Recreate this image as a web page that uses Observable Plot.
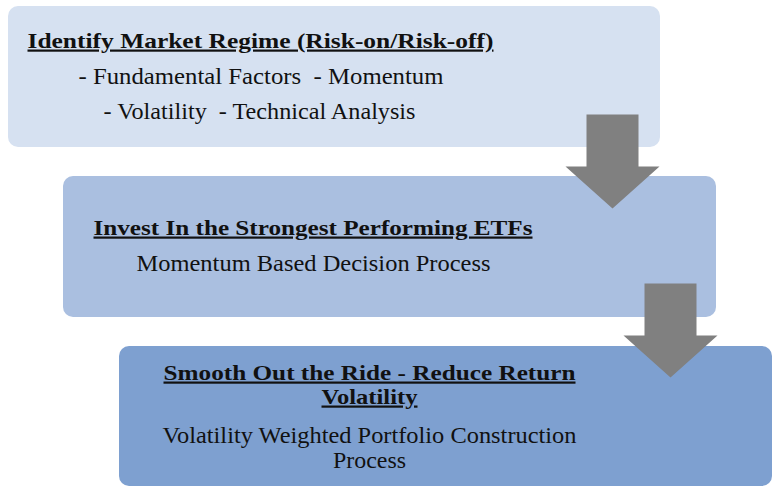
<!DOCTYPE html>
<html><head><meta charset="utf-8">
<script src="https://cdn.jsdelivr.net/npm/d3@7"></script>
<script src="https://cdn.jsdelivr.net/npm/@observablehq/plot@0.6"></script>
<style>body{margin:0;background:#fff}</style>
</head><body><div id="chart"></div>
<script>
// Content
const stepTitles = [
  ["Identify Market Regime (Risk-on/Risk-off)"],
  ["Invest In the Strongest Performing ETFs"],
  ["Smooth Out the Ride - Reduce Return", "Volatility"]
];
const stepDetails = [
  ["- Fundamental Factors\u00a0 - Momentum", "- Volatility\u00a0 - Technical Analysis"],
  ["Momentum Based Decision Process"],
  ["Volatility Weighted Portfolio Construction", "Process"]
];

// Layout (boxes)
const boxLeft = [8, 63, 119];
const boxRight = [660, 716, 772];
const boxTop = [6, 176, 346];
const boxBottom = [147, 317, 486];
const boxFill = ["#d6e1f1", "#aabfe0", "#7ea0d0"];

// Layout (arrows)
const arrowStemLeft = [586, 644];
const arrowStemRight = [638, 696];
const arrowTop = [114, 283];
const arrowWingLeft = [565, 623];
const arrowWingRight = [659, 717];
const arrowShoulder = [166, 335];
const arrowTip = [208, 377];

// Layout (text lines): x, baseline y, anchor, target width
const titleX = [[27], [93], [369, 369]];
const titleY = [[47], [234], [379, 403]];
const titleAnchor = ["start", "start", "middle"];
const titleW = [[466], [439], [412, 96]];
const detailX = [[78, 103], [136], [369, 369]];
const detailY = [[83, 118], [270], [442, 467]];
const detailAnchor = ["start", "start", "middle"];
const detailW = [[365, 312], [354], [414, 73]];

const boxes = d3.range(3).map(i => ({x1: boxLeft[i], x2: boxRight[i], y1: boxTop[i], y2: boxBottom[i], fill: boxFill[i]}));

const arrowPts = [];
d3.range(2).forEach(i => {
  const cx = (arrowWingLeft[i] + arrowWingRight[i]) / 2;
  [[arrowStemLeft[i], arrowTop[i]], [arrowStemRight[i], arrowTop[i]], [arrowStemRight[i], arrowShoulder[i]],
   [arrowWingRight[i], arrowShoulder[i]], [cx, arrowTip[i]], [arrowWingLeft[i], arrowShoulder[i]],
   [arrowStemLeft[i], arrowShoulder[i]]].forEach(([x, y]) => arrowPts.push({arrow: i, x, y}));
});

const titles = [], details = [];
stepTitles.forEach((ls, i) => ls.forEach((t, j) => titles.push({t, x: titleX[i][j], y: titleY[i][j], a: titleAnchor[i], w: titleW[i][j], u: true})));
stepDetails.forEach((ls, i) => ls.forEach((t, j) => details.push({t, x: detailX[i][j], y: detailY[i][j], a: detailAnchor[i], w: detailW[i][j], u: false})));

const font = "'Liberation Serif', 'DejaVu Serif', serif";
const textOpts = (rows, weight, size, anchor) => Plot.text(rows.filter(d => d.a === anchor), {
  x: "x", y: "y", text: "t", textAnchor: anchor, lineAnchor: "bottom",
  fontFamily: font, fontWeight: weight, fontSize: size, fill: "#111"
});
const plot = Plot.plot({
  width: 778, height: 487, margin: 0,
  style: {fontFamily: font},
  x: {domain: [0, 778], range: [0, 778], axis: null},
  y: {domain: [0, 487], range: [0, 487], axis: null},
  marks: [
    Plot.rect(boxes, {x1: "x1", x2: "x2", y1: "y1", y2: "y2", fill: d => d.fill, rx: 10, ry: 10}),
    Plot.line(arrowPts, {x: "x", y: "y", z: "arrow", fill: "#808080", stroke: null, curve: "linear"}),
    textOpts(titles, "bold", 22, "start"),
    textOpts(titles, "bold", 22, "middle"),
    textOpts(details, "normal", 23, "start"),
    textOpts(details, "normal", 23, "middle")
  ]
});
document.getElementById("chart").appendChild(plot);

// Fit text widths to the reference and underline the titles
const lookup = new Map([...titles, ...details].map(d => [d.t, d]));
d3.select(plot).selectAll("text").each(function() {
  const d = lookup.get(this.textContent);
  if (!d) return;
  const s = d3.select(this).attr("textLength", d.w).attr("lengthAdjust", "spacingAndGlyphs")
    .style("font-family", font);
  if (d.u) s.style("text-decoration", "underline");
});
</script>
</body></html>
